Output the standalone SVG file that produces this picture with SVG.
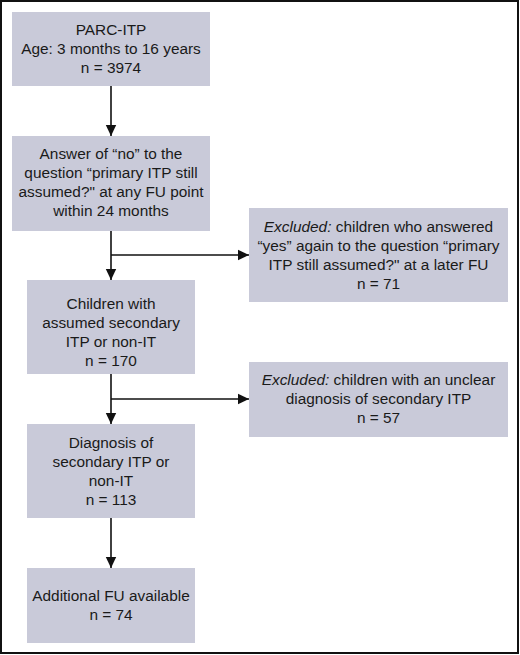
<svg xmlns="http://www.w3.org/2000/svg" width="520" height="655" viewBox="0 0 520 655">
  <style>
    .box { fill: #c9cad9; }
    .t { font-family: "Liberation Sans", Arial, sans-serif; font-size: 15.4px; fill: #1a1a1a; text-anchor: middle; }
    .c { stroke: #111; stroke-width: 1.6; fill: none; }
  </style>
  <defs>
    <marker id="ah" markerUnits="userSpaceOnUse" markerWidth="12" markerHeight="12" viewBox="0 0 12 12" refX="11" refY="6" orient="auto">
      <path d="M0,0.8 L11,6 L0,11.2 Z" fill="#111"/>
    </marker>
  </defs>
  <rect x="1" y="1" width="517" height="652" fill="#fff" stroke="#111" stroke-width="2"/>

  <g id="connectors">
    <line class="c" x1="111" y1="86" x2="111" y2="136" marker-end="url(#ah)"/>
    <line class="c" x1="111" y1="231" x2="111" y2="280" marker-end="url(#ah)"/>
    <line class="c" x1="111" y1="255" x2="249" y2="255" marker-end="url(#ah)"/>
    <line class="c" x1="111" y1="374" x2="111" y2="424" marker-end="url(#ah)"/>
    <line class="c" x1="111" y1="399" x2="249" y2="399" marker-end="url(#ah)"/>
    <line class="c" x1="111" y1="518" x2="111" y2="568" marker-end="url(#ah)"/>
  </g>

  <g id="node-parc">
    <rect class="box" x="12" y="12" width="198" height="74"/>
    <text class="t" x="111" y="35">PARC-ITP</text>
    <text class="t" x="111" y="54">Age: 3 months to 16 years</text>
    <text class="t" x="111" y="73">n = 3974</text>
  </g>

  <g id="node-answer">
    <rect class="box" x="12" y="136" width="198" height="95"/>
    <text class="t" x="111" y="158.5">Answer of “no” to the</text>
    <text class="t" x="111" y="177.5">question “primary ITP still</text>
    <text class="t" x="111" y="196.5">assumed?" at any FU point</text>
    <text class="t" x="111" y="215.5">within 24 months</text>
  </g>

  <g id="node-excl71">
    <rect class="box" x="249" y="208" width="259" height="94"/>
    <text class="t" x="378.5" y="232"><tspan font-style="italic">Excluded:</tspan> children who answered</text>
    <text class="t" x="378.5" y="251">“yes” again to the question “primary</text>
    <text class="t" x="378.5" y="270">ITP still assumed?" at a later FU</text>
    <text class="t" x="378.5" y="289">n = 71</text>
  </g>

  <g id="node-children">
    <rect class="box" x="27" y="280" width="168" height="94"/>
    <text class="t" x="111" y="309">Children with</text>
    <text class="t" x="111" y="328">assumed secondary</text>
    <text class="t" x="111" y="347">ITP or non-IT</text>
    <text class="t" x="111" y="366">n = 170</text>
  </g>

  <g id="node-excl57">
    <rect class="box" x="249" y="362" width="259" height="75"/>
    <text class="t" x="378.5" y="385"><tspan font-style="italic">Excluded:</tspan> children with an unclear</text>
    <text class="t" x="378.5" y="404">diagnosis of secondary ITP</text>
    <text class="t" x="378.5" y="423">n = 57</text>
  </g>

  <g id="node-diagnosis">
    <rect class="box" x="27" y="424" width="168" height="94"/>
    <text class="t" x="111" y="448">Diagnosis of</text>
    <text class="t" x="111" y="467">secondary ITP or</text>
    <text class="t" x="111" y="486">non-IT</text>
    <text class="t" x="111" y="505">n = 113</text>
  </g>

  <g id="node-fu">
    <rect class="box" x="27" y="568" width="168" height="75"/>
    <text class="t" x="111" y="601">Additional FU available</text>
    <text class="t" x="111" y="620">n = 74</text>
  </g>
</svg>
